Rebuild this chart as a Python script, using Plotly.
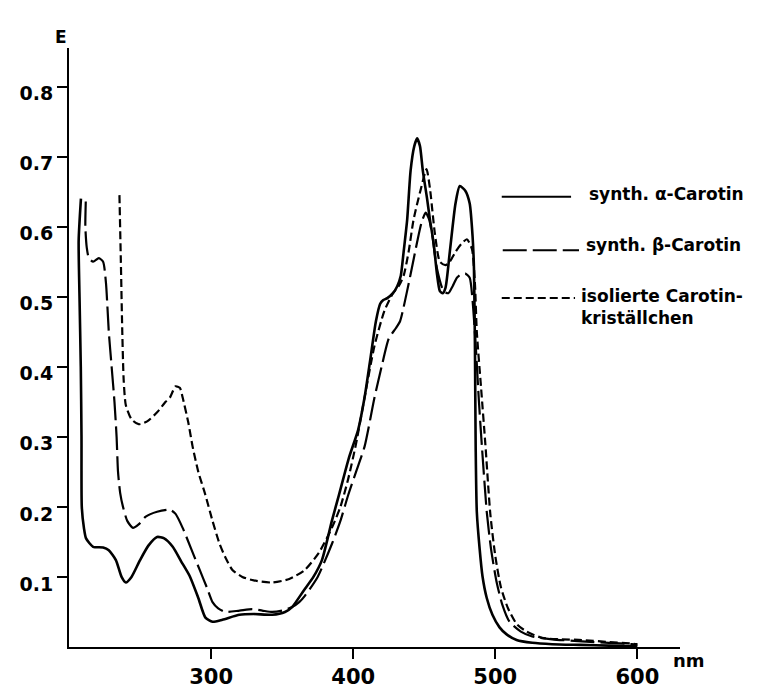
import plotly.graph_objects as go

# ---- data (wavelength nm, extinction E) ----
alpha_nm = [208.4, 206.8, 207.4, 208.3, 208.8, 209.0, 210.5, 212, 217, 224, 228, 233, 237, 240, 244, 250, 256,
            262, 267, 273, 279, 285, 291, 296, 301, 308, 320, 330, 343, 352, 357, 365, 372, 378, 385, 390,
            397, 403.5, 408, 412, 416, 419, 421, 424, 428, 431, 433.5, 435.5, 438, 440.4, 443, 445, 447,
            449, 452, 454, 456.5, 459, 461, 463, 465, 468, 472, 475, 479, 482, 484, 485, 485.7, 486.2,
            487, 489, 491, 494, 498, 503, 508, 515, 526, 540, 560, 580, 600]
alpha_E = [0.64, 0.58, 0.50, 0.40, 0.30, 0.20, 0.17, 0.155, 0.143, 0.142, 0.138, 0.124, 0.10, 0.092, 0.10,
           0.124, 0.145, 0.157, 0.155, 0.143, 0.122, 0.101, 0.07, 0.042, 0.036, 0.039, 0.046, 0.047, 0.046,
           0.05, 0.057, 0.08, 0.10, 0.124, 0.18, 0.217, 0.27, 0.31, 0.356, 0.41, 0.465, 0.49, 0.495, 0.498,
           0.505, 0.515, 0.53, 0.564, 0.61, 0.68, 0.715, 0.726, 0.715, 0.68, 0.64, 0.61, 0.578, 0.532, 0.508,
           0.505, 0.513, 0.564, 0.633, 0.658, 0.651, 0.633, 0.587, 0.54, 0.425, 0.286, 0.193, 0.14, 0.101,
           0.07, 0.046, 0.028, 0.018, 0.010, 0.006, 0.004, 0.003, 0.002, 0.001]

beta_nm = [211.8, 211.5, 212.5, 214, 217, 221, 224, 226, 228, 230, 232, 233.5, 234.5, 236, 238, 241, 245,
           249, 254, 262, 271, 275, 280, 286, 292, 297, 301, 305, 310, 320, 329, 336, 343, 350, 357, 362,
           366, 375, 385, 391, 396.5, 402, 408, 415, 420, 425, 430, 433, 435.5, 440.4, 445, 448, 451, 453.5,
           455.7, 459, 463.6, 467, 470, 473, 476, 479, 482, 484, 486.4, 488.5, 490.6, 494, 497, 501, 505, 510,
           518, 526, 540, 561, 580, 596, 600]
beta_E = [0.636, 0.60, 0.57, 0.555, 0.55, 0.555, 0.55, 0.52, 0.45, 0.40, 0.35, 0.30, 0.25, 0.22, 0.20,
          0.18, 0.17, 0.175, 0.186, 0.193, 0.196, 0.19, 0.17, 0.14, 0.11, 0.085, 0.064, 0.055, 0.05, 0.052,
          0.054, 0.052, 0.05, 0.052, 0.057, 0.064, 0.073, 0.10, 0.147, 0.18, 0.217, 0.25, 0.286, 0.356, 0.40,
          0.44, 0.455, 0.465, 0.485, 0.532, 0.578, 0.605, 0.62, 0.61, 0.587, 0.54, 0.508, 0.505, 0.515,
          0.527, 0.532, 0.533, 0.527, 0.495, 0.425, 0.35, 0.286, 0.193, 0.14, 0.092, 0.06, 0.036, 0.022,
          0.015, 0.011, 0.008, 0.006, 0.004, 0.003]

iso_nm = [235.5, 236.5, 237.5, 238.5, 240, 244, 249, 255, 262, 268, 271, 275, 278, 280, 284, 287, 291,
          296, 301, 306, 310, 315, 322, 330, 343, 355, 366, 376, 385, 391, 396.5, 402, 408, 415, 422, 428,
          432, 435.5, 439, 442.5, 447.4, 451.6, 454, 457.5, 461, 465, 468, 472, 476, 480, 483.6, 485.7,
          487, 490, 493, 496.5, 500, 504, 509, 515, 522, 533, 545, 561, 580, 596, 600]
iso_E = [0.645, 0.55, 0.45, 0.38, 0.345, 0.325, 0.318, 0.322, 0.335, 0.35, 0.356, 0.372, 0.37, 0.356, 0.32,
         0.286, 0.25, 0.217, 0.18, 0.147, 0.128, 0.11, 0.10, 0.095, 0.092, 0.097, 0.11, 0.135, 0.17, 0.20,
         0.24, 0.29, 0.356, 0.43, 0.48, 0.505, 0.515, 0.53, 0.564, 0.61, 0.652, 0.682, 0.655, 0.59,
         0.55, 0.545, 0.55, 0.564, 0.575, 0.582, 0.568, 0.518, 0.45, 0.37, 0.29, 0.19, 0.13, 0.085, 0.055,
         0.033, 0.022, 0.013, 0.011, 0.010, 0.007, 0.005, 0.004]

series = [
    ("synth. α-Carotin", alpha_nm, alpha_E, "solid", 2.6),
    ("synth. β-Carotin", beta_nm, beta_E, "24px,6px", 2.2),
    ("isolierte Carotin-kriställchen", iso_nm, iso_E, "8px,4px", 2.2),
]

x_ticks = [300, 400, 500, 600]
y_ticks = [0.1, 0.2, 0.3, 0.4, 0.5, 0.6, 0.7, 0.8]
y_tick_labels = ["0.1", "0.2", "0.3", "0.4", "0.5", "0.6", "0.7", "0.8"]

legend_labels = ["synth. α-Carotin", "synth. β-Carotin", "isolierte Carotin-<br>kriställchen"]

FONT = "DejaVu Sans"

fig = go.Figure()
for name, xs, ys, dash, w in series:
    fig.add_trace(go.Scatter(x=xs, y=ys, mode="lines", name=name,
                             line=dict(color="black", width=w, dash=dash, shape="spline", smoothing=0.6),
                             showlegend=False))

# legend drawn manually (lines in paper coords + text)
W, H = 758, 693
L, R, T, B = 55, 86, 40, 37
pw, ph = W - L - R, H - T - B

def px_x(px):
    return (px - L) / pw

def px_y(py):
    return 1 - (py - T) / ph

legend_rows = [(193, 492, 562, 578, 190), (248, 493, 570, 575, 243), (297, 492, 566, 570, 293)]
for (ly, x0, x1, tx, ty), (name, xs, ys, dash, w), lab in zip(legend_rows, series, legend_labels):
    fig.add_shape(type="line", xref="paper", yref="paper",
                  x0=px_x(x0), x1=px_x(x1), y0=px_y(ly), y1=px_y(ly),
                  line=dict(color="black", width=2, dash=dash))
    fig.add_annotation(xref="paper", yref="paper", x=px_x(tx), y=px_y(ty),
                       text="<b>" + lab + "</b>", showarrow=False, xanchor="left",
                       yanchor="top" if "<br>" in lab else "middle",
                       yshift=10 if "<br>" in lab else 0,
                       align="left", font=dict(family=FONT, size=17, color="black"))

fig.add_annotation(xref="paper", yref="paper", x=px_x(39), y=px_y(16), text="<b>E</b>", showarrow=False,
                   font=dict(family=FONT, size=17, color="black"))
fig.add_annotation(xref="paper", yref="paper", x=px_x(699), y=px_y(683), text="<b>nm</b>", showarrow=False,
                   font=dict(family=FONT, size=18, color="black"))

fig.update_layout(
    width=W, height=H,
    margin=dict(l=L, r=R, t=T, b=B),
    paper_bgcolor="white", plot_bgcolor="white",
    xaxis=dict(range=[200, 630], tickvals=x_ticks, ticktext=["<b>%d</b>" % v for v in x_ticks],
               showgrid=False, zeroline=False, showline=True, linecolor="black", linewidth=2,
               ticks="outside", ticklen=10, tickwidth=2, tickcolor="black",
               tickfont=dict(family=FONT, size=21, color="black"), fixedrange=True),
    yaxis=dict(range=[0, 0.855], tickvals=y_ticks, ticktext=["<b>%s</b>" % t for t in y_tick_labels],
               showgrid=False, zeroline=False, showline=True, linecolor="black", linewidth=2,
               ticks="outside", ticklen=10, tickwidth=2, tickcolor="black", ticklabelshift=7,
               tickfont=dict(family=FONT, size=19, color="black"), fixedrange=True),
)

fig.write_html("out.html")
